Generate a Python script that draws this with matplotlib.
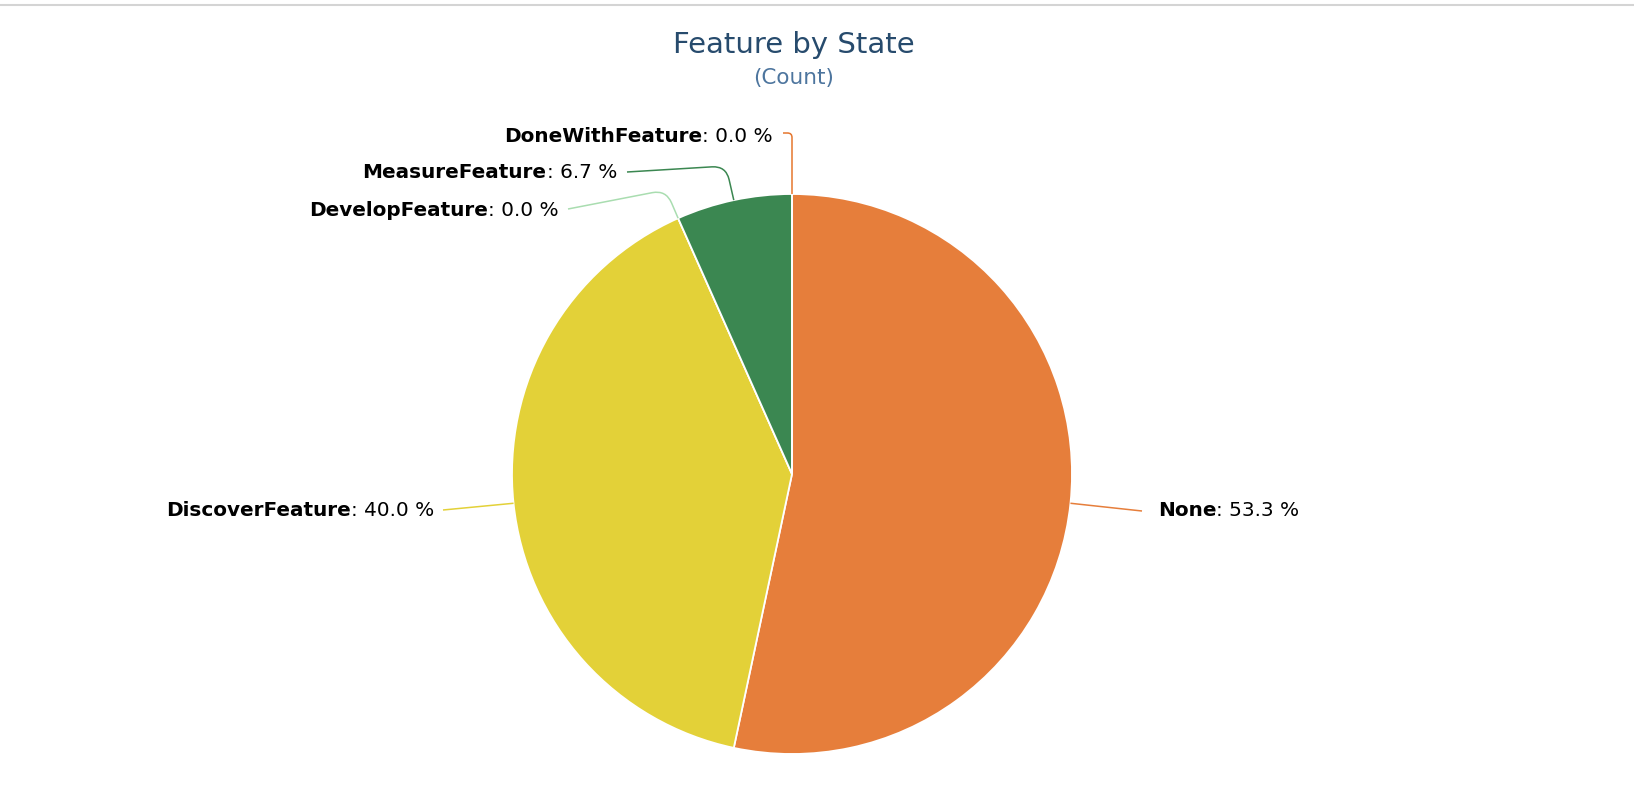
import matplotlib
matplotlib.use('Agg')
import matplotlib.pyplot as plt
from matplotlib.path import Path
from matplotlib.patches import PathPatch
from matplotlib.offsetbox import TextArea, HPacker, AnnotationBbox
import numpy as np

# ---- data ----
states = ['None', 'DiscoverFeature', 'DevelopFeature', 'MeasureFeature', 'DoneWithFeature']
counts = [8, 6, 0, 1, 0]
colors = ['#E67E3B', '#E3D138', '#A9DDB0', '#3B8751', '#E5762E']
title = 'Feature by State'
subtitle = '(Count)'

# ---- layout (pixel coordinates, y measured from top) ----
W, H = 1634, 806
cx, cy, R = 792, 474, 280
# label anchor (x, y, side), connector knee points, corner radius
label_layout = {
    'None':            dict(x=1158, y=511, side='left',  knees=[(1142, 511)], r=0),
    'DiscoverFeature': dict(x=434,  y=511, side='right', knees=[(443, 510)], r=0),
    'DevelopFeature':  dict(x=559,  y=210, side='right', knees=[(666, 190), (568, 209)], r=14),
    'MeasureFeature':  dict(x=617,  y=172, side='right', knees=[(726, 166), (627, 172)], r=14),
    'DoneWithFeature': dict(x=773,  y=137, side='right', knees=[(792, 133), (783, 133)], r=8),
}

fig = plt.figure(figsize=(W / 100, H / 100), dpi=100)
ax = fig.add_axes([0, 0, 1, 1])


def Y(y):
    return H - y


ax.pie(counts, colors=colors, startangle=90, counterclock=False,
       center=(cx, Y(cy)), radius=R, frame=True,
       wedgeprops=dict(edgecolor='white', linewidth=1.3))
ax.set_xlim(0, W)
ax.set_ylim(0, H)
ax.set_aspect('equal')
ax.axis('off')

# top rule
ax.plot([0, W], [Y(4.5), Y(4.5)], color='#D4D4D4', lw=1.5, solid_capstyle='butt')

total = float(sum(counts))
cum = 0.0


def rounded_path(pts, r=9):
    verts = [pts[0]]
    codes = [Path.MOVETO]
    for i in range(1, len(pts) - 1):
        P = np.array(pts[i], float)
        A = np.array(pts[i - 1], float)
        B = np.array(pts[i + 1], float)
        da = (A - P) / np.linalg.norm(A - P)
        db = (B - P) / np.linalg.norm(B - P)
        rr = min(r, np.linalg.norm(A - P) / 2, np.linalg.norm(B - P) / 2)
        verts += [tuple(P + rr * da), tuple(P), tuple(P + rr * db)]
        codes += [Path.LINETO, Path.CURVE3, Path.CURVE3]
    verts.append(pts[-1])
    codes.append(Path.LINETO)
    return Path([(x, Y(y)) for x, y in verts], codes)


for name, val, col in zip(states, counts, colors):
    frac = val / total
    mid = (cum + frac / 2) * 2 * np.pi
    cum += frac
    ex = cx + R * np.sin(mid)
    ey = cy - R * np.cos(mid)
    lay = label_layout[name]
    pts = [(ex, ey)] + lay['knees']
    ax.add_patch(PathPatch(rounded_path(pts, lay['r']), facecolor='none', edgecolor=col,
                           lw=1.1, capstyle='butt'))
    pct = 100.0 * frac
    t1 = TextArea(name, textprops=dict(fontsize=14.4, fontweight='bold', color='black',
                                       family='DejaVu Sans'))
    t2 = TextArea(': %.1f %%' % pct, textprops=dict(fontsize=14.4, color='black',
                                                     family='DejaVu Sans'))
    box = HPacker(children=[t1, t2], pad=0, sep=0, align='baseline')
    align = (0, 0.5) if lay['side'] == 'left' else (1, 0.5)
    ab = AnnotationBbox(box, (lay['x'], Y(lay['y'])), xycoords='data',
                        box_alignment=align, frameon=False, pad=0)
    ax.add_artist(ab)

ax.text(794, Y(45), title, ha='center', va='center', fontsize=21,
        color='#274B6D', family='DejaVu Sans')
ax.text(794, Y(78), subtitle, ha='center', va='center', fontsize=15.5,
        color='#4D759E', family='DejaVu Sans')

fig.savefig('out.png', dpi=100)
